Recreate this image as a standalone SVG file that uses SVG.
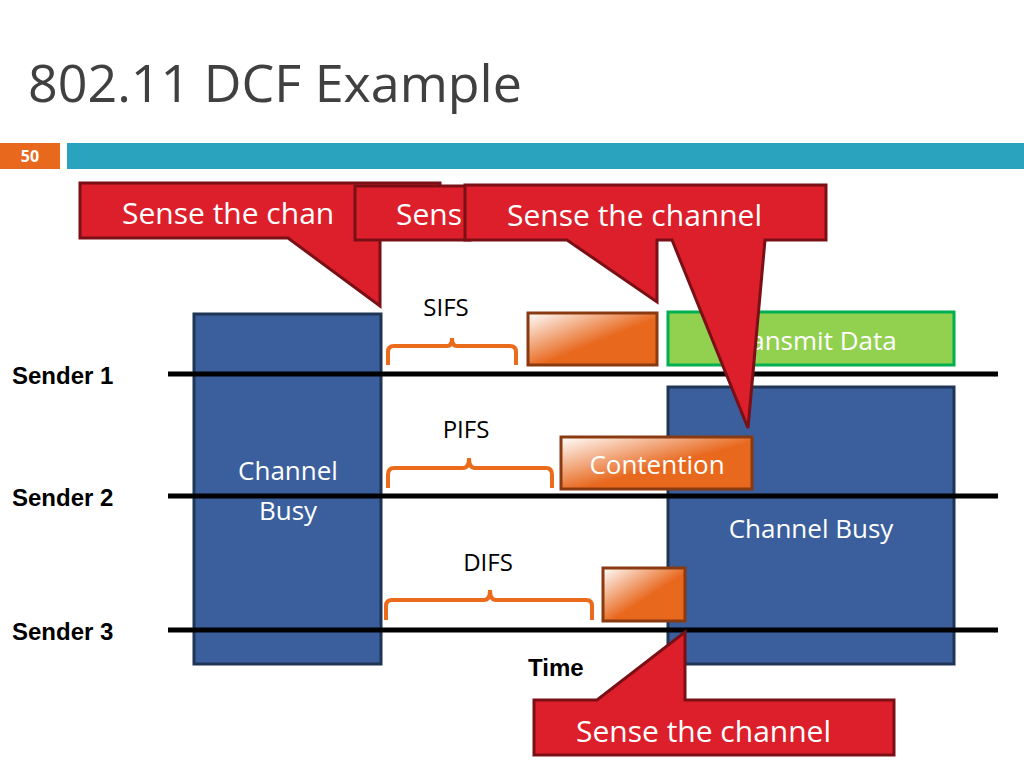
<svg xmlns="http://www.w3.org/2000/svg" width="1024" height="768" viewBox="0 0 1024 768">
<style>
.t{font-family:"Open Sans","Liberation Sans",sans-serif}
.lbl{font-family:"Liberation Sans",sans-serif;font-weight:bold;font-size:24px;fill:#000}
.busy{fill:#3a5f9c;stroke:#1f3556;stroke-width:3}
.org{stroke:#8a3a10;stroke-width:3}
.call{fill:#dc1f2a;stroke:#7a1016;stroke-width:3;stroke-linejoin:miter}
.ct{font-family:"Open Sans","Liberation Sans",sans-serif;font-size:30px;fill:#fff}
.br{fill:none;stroke:#ea6b1c;stroke-width:4}
.ax{stroke:#000;stroke-width:5;fill:none}
</style>
<defs>
<linearGradient id="og" x1="0" y1="0" x2="1" y2="1">
<stop offset="0" stop-color="#fff"/><stop offset="0.55" stop-color="#e8681e"/><stop offset="1" stop-color="#e8681e"/>
</linearGradient>
<marker id="ah" viewBox="0 0 10 10" refX="8" refY="5" markerWidth="5" markerHeight="5" orient="auto" markerUnits="userSpaceOnUse">
<path d="M1 1 L8 5 L1 9" fill="none" stroke="#000" stroke-width="2"/>
</marker>
</defs>
<rect width="1024" height="768" fill="#fff"/>
<text x="28" y="102" class="t" font-size="52" fill="#404040">802.11 DCF Example</text>
<rect x="0" y="143" width="60" height="26" fill="#e8681e"/>
<text x="30" y="162" class="t" font-size="16" font-weight="bold" fill="#fff" text-anchor="middle">50</text>
<rect x="67" y="143" width="957" height="26" fill="#2aa3bf"/>
<g id="blocks">
<rect id="busy1" class="busy" x="194" y="314" width="187" height="350"/>
<text x="288" y="480" class="t" font-size="26" fill="#fff" text-anchor="middle">Channel</text>
<text x="288" y="520" class="t" font-size="26" fill="#fff" text-anchor="middle">Busy</text>
<rect id="busy2" class="busy" x="668" y="387" width="286" height="277"/>
<text x="811" y="538" class="t" font-size="26" fill="#fff" text-anchor="middle">Channel Busy</text>
<rect id="tx" x="668" y="312" width="286" height="53" fill="#92d050" stroke="#00b050" stroke-width="3"/>
<text x="811" y="350" class="t" font-size="26" fill="#fff" text-anchor="middle">Transmit Data</text>
<rect id="o1" class="org" x="528" y="313" width="129" height="52" fill="url(#og)"/>
<rect id="cont" class="org" x="561" y="437" width="191" height="52" fill="url(#og)"/>
<text x="657" y="474" class="t" font-size="26" fill="#fff" text-anchor="middle">Contention</text>
<rect id="o3" class="org" x="603" y="568" width="82" height="53" fill="url(#og)"/>
</g>
<g id="connectors">
<line class="ax" x1="168" y1="374" x2="998" y2="374" marker-end="url(#ah)"/>
<line class="ax" x1="168" y1="496" x2="998" y2="496" marker-end="url(#ah)"/>
<line class="ax" x1="168" y1="630" x2="998" y2="630" marker-end="url(#ah)"/>
<path class="br" d="M388 365 V352 Q388 346 394 346 H447 Q452 346 452 338 Q452 346 457 346 H510 Q516 346 516 352 V365"/>
<path class="br" d="M388 488 V475 Q388 468 394 468 H463 Q469 468 469 458 Q469 468 475 468 H546 Q552 468 552 475 V488"/>
<path class="br" d="M386 620 V606 Q386 600 392 600 H484 Q490 600 490 590 Q490 600 496 600 H586 Q592 600 592 606 V620"/>
</g>
<text x="12" y="384" class="lbl">Sender 1</text>
<text x="12" y="506" class="lbl">Sender 2</text>
<text x="12" y="640" class="lbl">Sender 3</text>
<text x="528" y="676" class="lbl">Time</text>
<text x="446" y="316" class="t" font-size="24" fill="#000" text-anchor="middle">SIFS</text>
<text x="466" y="438" class="t" font-size="24" fill="#000" text-anchor="middle">PIFS</text>
<text x="488" y="571" class="t" font-size="24" fill="#000" text-anchor="middle">DIFS</text>
<g id="callout1">
<path class="call" d="M80 183 H440 V238 H380 V306 L288 238 H80 Z"/>
<text x="122" y="224" class="ct">Sense the chan</text>
</g>
<g id="callout2">
<path class="call" d="M355 186 H470 V240 H355 Z"/>
<text x="396" y="225" class="ct">Sens</text>
</g>
<g id="callout3">
<path class="call" d="M465 185 H826 V240 H765 L748 428 L672 240 H657 V302 L567 240 H465 Z"/>
<text x="507" y="226" class="ct">Sense the channel</text>
</g>
<g id="callout4">
<path class="call" d="M534 700 H597 L685 632 V700 H894 V755 H534 Z"/>
<text x="576" y="742" class="ct">Sense the channel</text>
</g>
</svg>
